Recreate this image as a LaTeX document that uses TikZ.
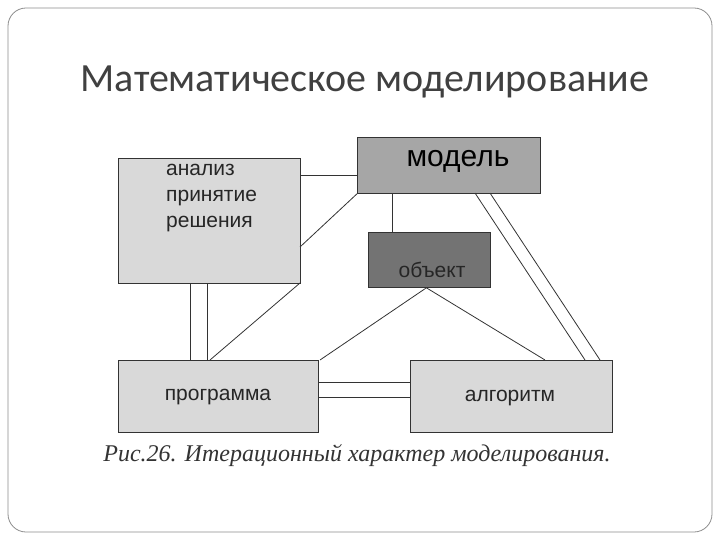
\documentclass[tikz,border=0pt]{standalone}
\usepackage{fontspec}
\setmainfont{Liberation Serif}
\newfontfamily\titlefont{Carlito}
\newfontfamily\boxfont{Liberation Sans}
\begin{document}
\begin{tikzpicture}[x=1pt,y=-1pt,
  bx/.style={draw=black!80,line width=0.8pt,inner sep=0pt,anchor=north west},
  ln/.style={draw=black!80,line width=0.8pt},
  lbl/.style={font=\boxfont\fontsize{21}{23}\selectfont,text=black!85}]
\useasboundingbox (0,0) rectangle (720,540);
\draw[black!45,line width=0.8pt,rounded corners=18pt] (8,8) rectangle (712,532);
\node (title) at (365,82) {\titlefont\fontsize{40}{44}\selectfont\color{black!75}Математическое моделирование};
\node[bx,fill=black!15,minimum width=182pt,minimum height=125pt] (an) at (118,158) {};
\node[lbl,align=left,anchor=north west,inner sep=0pt,font=\boxfont\fontsize{21}{26}\selectfont] (ant) at (166,164) {анализ\\принятие\\решения};
\node[bx,fill=black!35,minimum width=183pt,minimum height=56pt] (mo) at (357,137) {};
\node[font=\boxfont\fontsize{30}{32}\selectfont] (mot) at (458,161) {модель};
\node[bx,fill=black!55,minimum width=122pt,minimum height=55pt] (ob) at (368,232) {};
\node[lbl] (obt) at (432,270) {объект};
\node[bx,fill=black!15,minimum width=200pt,minimum height=72pt] (pr) at (118,360) {};
\node[lbl] (prt) at (218,397) {программа};
\node[bx,fill=black!15,minimum width=202pt,minimum height=72pt] (al) at (410,360) {};
\node[lbl] (alt) at (510,398) {алгоритм};
\node (cap) at (357,456) {\itshape\fontsize{24}{26}\selectfont\color{black!80}Рис.26. Итерационный характер моделирования.};
% connectors
\draw[ln] (an.north east |- 0,175) -- (mo.west |- 0,175);
\draw[ln] (mo.south west) -- (300,247);
\draw[ln] (392,193) -- (392,232);
\draw[ln] (475,193) -- (585,360);
\draw[ln] (490,193) -- (600,360);
\draw[ln] (190,283) -- (190,360);
\draw[ln] (207,283) -- (207,360);
\draw[ln] (210,360) -- (300,283);
\draw[ln] (ob.south) ++(-3,0) -- (320,360);
\draw[ln] (ob.south) ++(-3,0) -- (545,360);
\draw[ln] (318,382) -- (410,382);
\draw[ln] (318,397) -- (410,397);
\end{tikzpicture}
\end{document}
